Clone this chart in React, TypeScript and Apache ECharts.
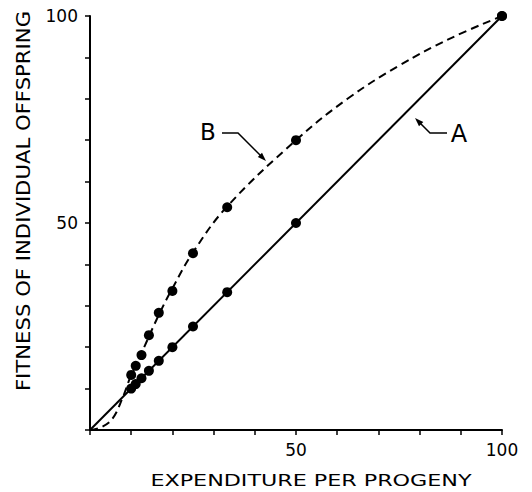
import React, { useEffect, useRef } from "react";
import * as echarts from "echarts";

// Expenditure per progeny (x) for the plotted dots
const expenditure = [100, 50, 33.3, 25, 20, 16.7, 14.3, 12.5, 11.1, 10];
// Curve A: fitness equal to expenditure
const fitnessA = [100, 50, 33.3, 25, 20, 16.7, 14.3, 12.5, 11.1, 10];
// Curve B: fitness at the same expenditures
const fitnessB = [100, 70, 53.8, 42.7, 33.6, 28.3, 22.9, 18.1, 15.5, 13.3];
// Line A passes through the origin
const lineAX = [0, 100];
const lineAY = [0, 100];
// Dashed curve B
const curveBX = [0, 3, 5.5, 8, 10, 12.5, 16.7, 20, 25, 33.3, 50, 62.5, 75, 87.5, 100];
const curveBY = [0, 0.8, 2.8, 8, 13.3, 18.6, 27.8, 34.2, 42.9, 54, 70, 80, 88, 94.6, 100];
// Tick labels shown
const shownTicks = [50, 100];

const FONT = "DejaVu Sans";

export default function App() {
  const ref = useRef<HTMLDivElement>(null);
  useEffect(() => {
    if (!ref.current) return;
    const chart = echarts.init(ref.current, null, { renderer: "svg" });
    const axisCommon = {
      type: "value" as const,
      min: 0,
      max: 100,
      interval: 10,
      splitLine: { show: false },
      axisLine: { show: true, lineStyle: { color: "#000", width: 2 } },
      axisTick: { show: true, inside: false, length: 5, lineStyle: { color: "#000", width: 1.5 } },
      axisLabel: {
        color: "#000",
        fontFamily: FONT,
        fontSize: 17,
        formatter: (v: number) => (shownTicks.includes(v) ? String(v) : ""),
      },
    };
    chart.setOption({
      animation: false,
      backgroundColor: "#fff",
      grid: { left: 90, right: 30, top: 16, bottom: 62, containLabel: false },
      xAxis: { ...axisCommon, axisLabel: { ...axisCommon.axisLabel, margin: 11 } },
      yAxis: { ...axisCommon, axisLabel: { ...axisCommon.axisLabel, margin: 12 } },
      series: [
        {
          name: "A line",
          type: "line",
          data: lineAX.map((x, i) => [x, lineAY[i]]),
          showSymbol: false,
          lineStyle: { color: "#000", width: 2 },
          z: 2,
        },
        {
          name: "A",
          type: "scatter",
          data: expenditure.map((x, i) => [x, fitnessA[i]]),
          symbol: "circle",
          symbolSize: 10,
          itemStyle: { color: "#000", opacity: 1 },
          z: 3,
        },
        {
          name: "B curve",
          type: "line",
          data: curveBX.map((x, i) => [x, curveBY[i]]),
          showSymbol: false,
          smooth: 0.4,
          lineStyle: { color: "#000", width: 2, type: [8, 5] },
          z: 2,
        },
        {
          name: "B",
          type: "scatter",
          data: expenditure.map((x, i) => [x, fitnessB[i]]),
          symbol: "circle",
          symbolSize: 10,
          itemStyle: { color: "#000", opacity: 1 },
          z: 3,
        },
      ],
      graphic: [
        {
          type: "text",
          x: 311,
          y: 481,
          scaleX: 1.39,
          style: {
            text: "EXPENDITURE PER PROGENY",
            x: 0,
            y: 0,
            textAlign: "center",
            textVerticalAlign: "middle",
            fontFamily: FONT,
            fontSize: 16,
            fill: "#000",
          },
        },
        {
          type: "text",
          x: 23,
          y: 201,
          rotation: Math.PI / 2,
          scaleX: 1.06,
          style: {
            text: "FITNESS OF INDIVIDUAL OFFSPRING",
            x: 0,
            y: 0,
            textAlign: "center",
            textVerticalAlign: "middle",
            fontFamily: FONT,
            fontSize: 20,
            fill: "#000",
          },
        },
        {
          type: "text",
          x: 208,
          y: 132,
          style: {
            text: "B",
            x: 0,
            y: 0,
            textAlign: "center",
            textVerticalAlign: "middle",
            fontFamily: FONT,
            fontSize: 23,
            fill: "#000",
          },
        },
        {
          type: "polyline",
          shape: { points: [[222, 133], [238, 133], [261, 156]] },
          style: { stroke: "#000", lineWidth: 1.5, fill: null },
        },
        {
          type: "polygon",
          shape: { points: [[266, 161], [257.8, 157], [262, 152.8]] },
          style: { fill: "#000" },
        },
        {
          type: "text",
          x: 459,
          y: 134,
          style: {
            text: "A",
            x: 0,
            y: 0,
            textAlign: "center",
            textVerticalAlign: "middle",
            fontFamily: FONT,
            fontSize: 24,
            fill: "#000",
          },
        },
        {
          type: "polyline",
          shape: { points: [[447, 133], [430, 133], [419, 122]] },
          style: { stroke: "#000", lineWidth: 1.5, fill: null },
        },
        {
          type: "polygon",
          shape: { points: [[415, 118], [423.3, 122], [419, 126.3]] },
          style: { fill: "#000" },
        },
      ],
    });
    return () => chart.dispose();
  }, []);
  return (
    <div
      ref={ref}
      style={{ position: "fixed", left: 0, top: 0, width: 532, height: 492, background: "#fff" }}
    />
  );
}
